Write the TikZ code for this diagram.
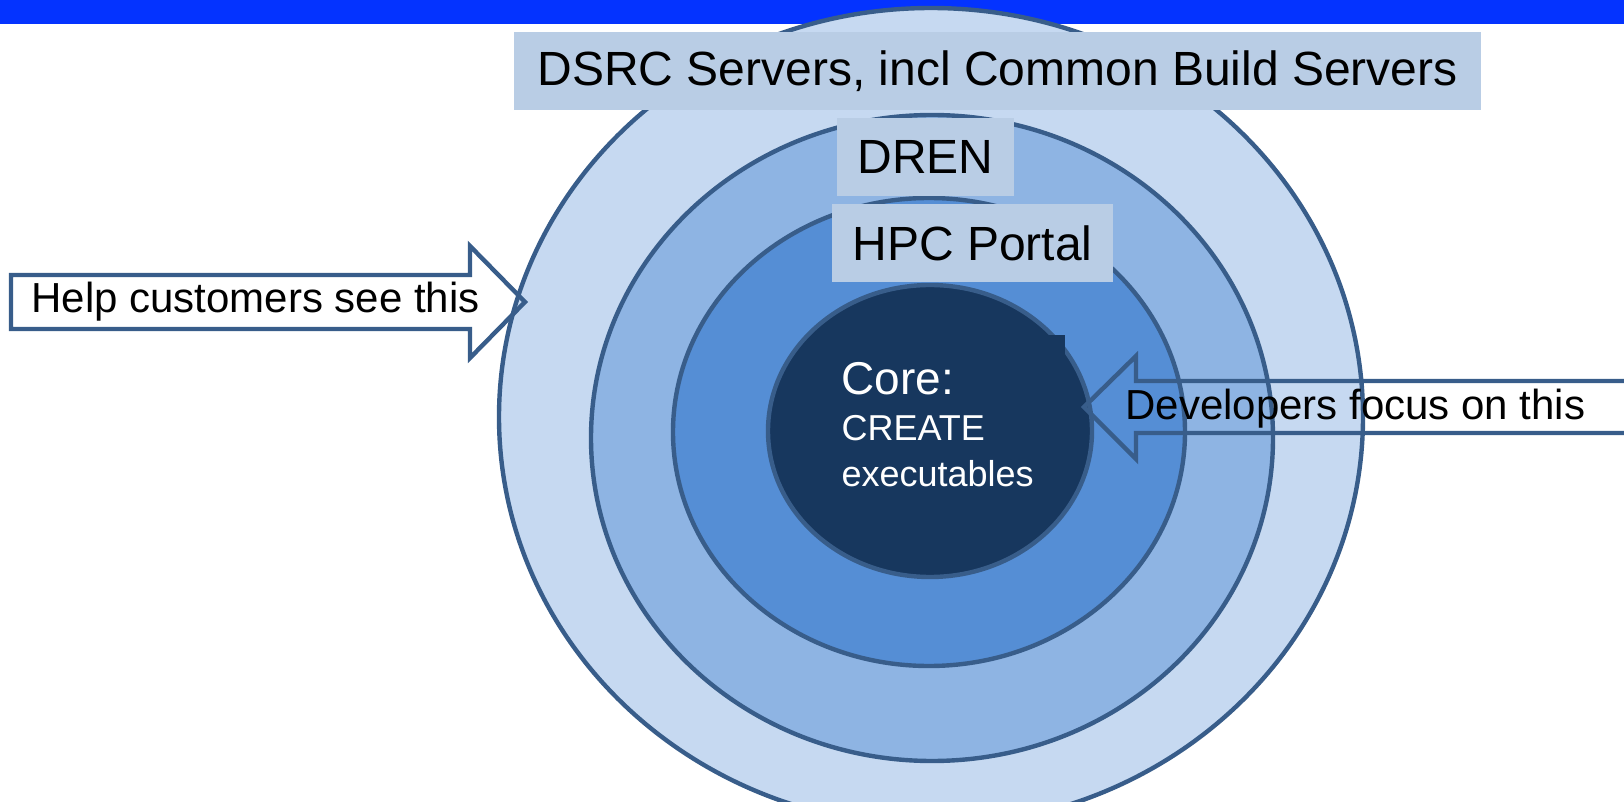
\documentclass[tikz,border=0pt]{standalone}
\usepackage{fontspec}
\setmainfont{Liberation Sans}
\usepackage{tikz}
\usetikzlibrary{calc}
\definecolor{barblue}{HTML}{0433FF}
\definecolor{ringA}{HTML}{C6D9F1}
\definecolor{ringB}{HTML}{8EB4E3}
\definecolor{ringC}{HTML}{558ED5}
\definecolor{coreblue}{HTML}{17375E}
\definecolor{edgeblue}{HTML}{385D8A}
\definecolor{labelbox}{HTML}{B9CDE5}
\tikzset{>=latex}
\tikzset{ring/.style={draw=edgeblue, line width=2.2pt},
  tag/.style={fill=labelbox, inner sep=0pt, minimum height=39pt, font=\fontsize{24}{28}\selectfont},
  blockarrow/.style={draw=edgeblue, line width=2.2pt, line join=miter},
  saying/.style={anchor=base west, inner sep=0pt, font=\fontsize{21}{25}\selectfont}}

\begin{document}
\begin{tikzpicture}[x=0.5pt,y=-0.5pt]
\useasboundingbox (0,0) rectangle (1624,802);
\clip (0,0) rectangle (1624,802);
\fill[barblue] (0,0) rectangle (1624,24);
% rings, outside in
\draw[ring, fill=ringA] (931,417) ellipse [x radius=432, y radius=409];
\draw[ring, fill=ringB] (932,438) ellipse [x radius=341, y radius=323];
\draw[ring, fill=ringC] (929,432) ellipse [x radius=256, y radius=234];
\draw[ring, fill=coreblue] (930,431) ellipse [x radius=162, y radius=146];
% labels on the rings
\node[tag, minimum width=483.5pt] (dsrc) at (997.5,71) {DSRC Servers, incl Common Build Servers};
\node[tag, minimum width=88.5pt] (dren) at (925.5,157) {DREN};
\node[tag, minimum width=140.5pt] (hpc) at (972.5,243) {HPC Portal};
\node[anchor=north east, fill=coreblue, text=white, align=left, text width=105.5pt, inner xsep=6pt, inner ysep=10.5pt,
  font=\fontsize{18}{23}\selectfont] (core) at (1065,335)
  {\rule{0pt}{19.2pt}{\fontsize{23}{28}\selectfont Core:}\\ CREATE\\ executables};
% block arrows
\draw[blockarrow] (11,275) -- (470,275) -- (470,246) -- (525,302) -- (470,358) -- (470,329) -- (11,329) -- cycle;
\draw[blockarrow] (1660,381) -- (1136,381) -- (1136,356) -- (1084,407) -- (1136,459) -- (1136,433) -- (1660,433) -- cycle;
\node[saying] (help) at (31,313) {Help customers see this};
\node[saying] (devs) at (1125,420) {Developers focus on this};
\end{tikzpicture}
\end{document}
